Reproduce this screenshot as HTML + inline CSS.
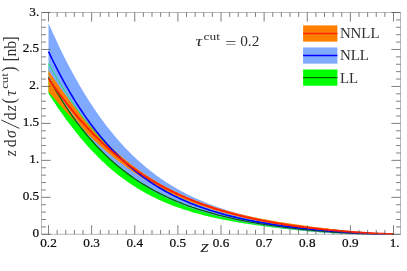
<!DOCTYPE html>
<html><head><meta charset="utf-8"><title>plot</title>
<style>html,body{margin:0;padding:0;background:#fff;}body{width:407px;height:271px;overflow:hidden;position:relative;font-family:"Liberation Serif",serif;}</style>
</head><body>
<svg width="407" height="271" viewBox="0 0 407 271" style="position:absolute;left:0;top:0;will-change:transform">
<rect width="407" height="271" fill="#fff"/>
<path d="M48.50,63.45 L50.23,66.57 L51.95,69.64 L53.68,72.66 L55.40,75.64 L57.12,78.57 L58.85,81.46 L60.58,84.31 L62.30,87.11 L64.03,89.87 L65.75,92.58 L67.47,95.25 L69.20,97.88 L70.92,100.47 L72.65,103.02 L74.38,105.52 L76.10,107.99 L77.83,110.41 L79.55,112.80 L81.28,115.14 L83.00,117.45 L84.73,119.72 L86.45,121.95 L88.18,124.14 L89.90,126.30 L91.63,128.42 L93.35,130.47 L95.07,132.42 L96.80,134.30 L98.53,136.12 L100.25,137.90 L101.97,139.66 L103.70,141.39 L105.43,143.12 L107.15,144.84 L108.88,146.56 L110.60,148.28 L112.32,150.00 L114.05,151.71 L115.77,153.43 L117.50,155.14 L119.22,156.83 L120.95,158.49 L122.67,160.11 L124.40,161.70 L126.12,163.26 L127.85,164.78 L129.57,166.28 L131.30,167.74 L133.03,169.18 L134.75,170.58 L136.48,171.96 L138.20,173.31 L139.93,174.63 L141.65,175.92 L143.38,177.19 L145.10,178.43 L146.83,179.64 L148.55,180.83 L150.28,181.99 L152.00,183.13 L153.72,184.25 L155.45,185.34 L157.18,186.41 L158.90,187.46 L160.62,188.49 L162.35,189.49 L164.07,190.47 L165.80,191.44 L167.53,192.38 L169.25,193.30 L170.98,194.21 L172.70,195.09 L174.43,195.96 L176.15,196.80 L177.88,197.63 L179.60,198.45 L181.32,199.24 L183.05,200.02 L184.78,200.78 L186.50,201.53 L188.22,202.26 L189.95,202.98 L191.68,203.68 L193.40,204.36 L195.12,205.04 L196.85,205.69 L198.58,206.34 L200.30,206.97 L202.03,207.58 L203.75,208.19 L205.48,208.78 L207.20,209.36 L208.93,209.93 L210.65,210.48 L212.38,211.03 L214.10,211.56 L215.83,212.08 L217.55,212.59 L219.28,213.09 L221.00,213.58 L222.73,214.06 L224.45,214.53 L226.18,214.99 L227.90,215.44 L229.62,215.88 L231.35,216.31 L233.07,216.74 L234.80,217.15 L236.53,217.56 L238.25,217.96 L239.97,218.35 L241.70,218.73 L243.43,219.10 L245.15,219.47 L246.88,219.83 L248.60,220.18 L250.33,220.53 L252.05,220.87 L253.78,221.20 L255.50,221.52 L257.22,221.84 L258.95,222.15 L260.67,222.46 L262.40,222.76 L264.12,223.05 L265.85,223.34 L267.58,223.63 L269.30,223.90 L271.02,224.18 L272.75,224.44 L274.48,224.71 L276.20,224.96 L277.93,225.22 L279.65,225.46 L281.38,225.71 L283.10,225.95 L284.83,226.18 L286.55,226.41 L288.28,226.63 L290.00,226.86 L291.73,227.07 L293.45,227.29 L295.18,227.50 L296.90,227.70 L298.62,227.90 L300.35,228.10 L302.08,228.30 L303.80,228.49 L305.53,228.67 L307.25,228.86 L308.98,229.04 L310.70,229.22 L312.43,229.39 L314.15,229.56 L315.88,229.73 L317.60,229.90 L319.33,230.06 L321.05,230.22 L322.78,230.38 L324.50,230.53 L326.23,230.68 L327.95,230.83 L329.68,230.98 L331.40,231.12 L333.13,231.26 L334.85,231.40 L336.58,231.54 L338.30,231.67 L340.03,231.80 L341.75,231.93 L343.48,232.05 L345.20,232.17 L346.93,232.29 L348.65,232.41 L350.38,232.53 L352.10,232.64 L353.82,232.75 L355.55,232.85 L357.27,232.96 L359.00,233.06 L360.72,233.16 L362.45,233.25 L364.18,233.35 L365.90,233.43 L367.62,233.52 L369.35,233.60 L371.07,233.68 L372.80,233.76 L374.52,233.83 L376.25,233.90 L377.98,233.96 L379.70,234.02 L381.43,234.08 L383.15,234.13 L384.88,234.18 L386.60,234.21 L388.32,234.25 L390.05,234.27 L391.78,234.29 L393.50,234.30 L393.50,234.30 L391.78,234.30 L390.05,234.30 L388.32,234.30 L386.60,234.30 L384.88,234.30 L383.15,234.30 L381.43,234.30 L379.70,234.30 L377.98,234.30 L376.25,234.29 L374.52,234.29 L372.80,234.29 L371.07,234.28 L369.35,234.27 L367.62,234.26 L365.90,234.25 L364.18,234.23 L362.45,234.21 L360.72,234.19 L359.00,234.17 L357.27,234.14 L355.55,234.10 L353.82,234.06 L352.10,234.02 L350.38,233.97 L348.65,233.92 L346.93,233.86 L345.20,233.79 L343.48,233.73 L341.75,233.65 L340.03,233.57 L338.30,233.49 L336.58,233.40 L334.85,233.31 L333.13,233.21 L331.40,233.10 L329.68,233.00 L327.95,232.88 L326.23,232.77 L324.50,232.65 L322.78,232.52 L321.05,232.39 L319.33,232.26 L317.60,232.12 L315.88,231.98 L314.15,231.83 L312.43,231.68 L310.70,231.53 L308.98,231.38 L307.25,231.22 L305.53,231.05 L303.80,230.89 L302.08,230.72 L300.35,230.55 L298.62,230.38 L296.90,230.20 L295.18,230.02 L293.45,229.84 L291.73,229.65 L290.00,229.47 L288.28,229.27 L286.55,229.08 L284.83,228.89 L283.10,228.69 L281.38,228.49 L279.65,228.28 L277.93,228.08 L276.20,227.87 L274.48,227.65 L272.75,227.44 L271.02,227.22 L269.30,227.00 L267.58,226.77 L265.85,226.55 L264.12,226.32 L262.40,226.08 L260.67,225.84 L258.95,225.60 L257.22,225.36 L255.50,225.11 L253.78,224.86 L252.05,224.60 L250.33,224.34 L248.60,224.08 L246.88,223.81 L245.15,223.54 L243.43,223.26 L241.70,222.98 L239.97,222.69 L238.25,222.40 L236.53,222.10 L234.80,221.80 L233.07,221.49 L231.35,221.17 L229.62,220.85 L227.90,220.53 L226.18,220.19 L224.45,219.86 L222.73,219.51 L221.00,219.16 L219.28,218.80 L217.55,218.43 L215.83,218.06 L214.10,217.67 L212.38,217.28 L210.65,216.88 L208.93,216.48 L207.20,216.06 L205.48,215.64 L203.75,215.20 L202.03,214.76 L200.30,214.31 L198.58,213.84 L196.85,213.37 L195.12,212.89 L193.40,212.39 L191.68,211.88 L189.95,211.37 L188.22,210.84 L186.50,210.30 L184.78,209.74 L183.05,209.17 L181.32,208.59 L179.60,208.00 L177.88,207.39 L176.15,206.77 L174.43,206.14 L172.70,205.48 L170.98,204.82 L169.25,204.14 L167.53,203.44 L165.80,202.73 L164.07,201.99 L162.35,201.25 L160.62,200.48 L158.90,199.70 L157.18,198.90 L155.45,198.08 L153.72,197.24 L152.00,196.38 L150.28,195.50 L148.55,194.60 L146.83,193.68 L145.10,192.73 L143.38,191.77 L141.65,190.78 L139.93,189.77 L138.20,188.74 L136.48,187.69 L134.75,186.61 L133.03,185.50 L131.30,184.37 L129.57,183.22 L127.85,182.03 L126.12,180.83 L124.40,179.59 L122.67,178.33 L120.95,177.04 L119.22,175.72 L117.50,174.38 L115.77,173.00 L114.05,171.60 L112.32,170.16 L110.60,168.70 L108.88,167.20 L107.15,165.67 L105.43,164.11 L103.70,162.52 L101.97,160.90 L100.25,159.24 L98.53,157.56 L96.80,155.83 L95.07,154.08 L93.35,152.29 L91.63,150.46 L89.90,148.61 L88.18,146.71 L86.45,144.78 L84.73,142.82 L83.00,140.82 L81.28,138.79 L79.55,136.72 L77.83,134.62 L76.10,132.48 L74.38,130.30 L72.65,128.09 L70.92,125.85 L69.20,123.57 L67.47,121.25 L65.75,118.90 L64.03,116.51 L62.30,114.09 L60.58,111.64 L58.85,109.15 L57.12,106.63 L55.40,104.08 L53.68,101.50 L51.95,98.88 L50.23,96.24 L48.50,93.56Z" fill="#00ff00"/>
<path d="M48.50,23.14 L50.23,27.08 L51.95,30.95 L53.68,34.77 L55.40,38.54 L57.12,42.24 L58.85,45.89 L60.58,49.47 L62.30,53.01 L64.03,56.48 L65.75,59.90 L67.47,63.27 L69.20,66.58 L70.92,69.83 L72.65,73.04 L74.38,76.18 L76.10,79.28 L77.83,82.32 L79.55,85.32 L81.28,88.26 L83.00,91.15 L84.73,93.99 L86.45,96.78 L88.18,99.52 L89.90,102.22 L91.63,104.86 L93.35,107.46 L95.07,110.02 L96.80,112.52 L98.53,114.98 L100.25,117.40 L101.97,119.77 L103.70,122.10 L105.43,124.39 L107.15,126.64 L108.88,128.84 L110.60,131.00 L112.32,133.12 L114.05,135.20 L115.77,137.24 L117.50,139.25 L119.22,141.21 L120.95,143.14 L122.67,145.03 L124.40,146.88 L126.12,148.70 L127.85,150.48 L129.57,152.23 L131.30,153.95 L133.03,155.63 L134.75,157.28 L136.48,158.89 L138.20,160.47 L139.93,162.03 L141.65,163.55 L143.38,165.04 L145.10,166.50 L146.83,167.93 L148.55,169.33 L150.28,170.71 L152.00,172.05 L153.72,173.37 L155.45,174.67 L157.18,175.93 L158.90,177.17 L160.62,178.39 L162.35,179.58 L164.07,180.75 L165.80,181.89 L167.53,183.01 L169.25,184.11 L170.98,185.18 L172.70,186.23 L174.43,187.26 L176.15,188.27 L177.88,189.26 L179.60,190.22 L181.32,191.17 L183.05,192.10 L184.78,193.00 L186.50,193.89 L188.22,194.76 L189.95,195.62 L191.68,196.45 L193.40,197.27 L195.12,198.07 L196.85,198.85 L198.58,199.62 L200.30,200.37 L202.03,201.10 L203.75,201.82 L205.48,202.53 L207.20,203.22 L208.93,203.89 L210.65,204.56 L212.38,205.20 L214.10,205.84 L215.83,206.46 L217.55,207.07 L219.28,207.66 L221.00,208.24 L222.73,208.81 L224.45,209.37 L226.18,209.92 L227.90,210.46 L229.62,210.98 L231.35,211.49 L233.07,212.00 L234.80,212.49 L236.53,212.97 L238.25,213.44 L239.97,213.91 L241.70,214.36 L243.43,214.80 L245.15,215.24 L246.88,215.67 L248.60,216.08 L250.33,216.49 L252.05,216.89 L253.78,217.28 L255.50,217.67 L257.22,218.05 L258.95,218.42 L260.67,218.78 L262.40,219.13 L264.12,219.48 L265.85,219.82 L267.58,220.15 L269.30,220.48 L271.02,220.80 L272.75,221.12 L274.48,221.43 L276.20,221.73 L277.93,222.03 L279.65,222.32 L281.38,222.61 L283.10,222.89 L284.83,223.16 L286.55,223.43 L288.28,223.70 L290.00,223.96 L291.73,224.22 L293.45,224.47 L295.18,224.71 L296.90,224.96 L298.62,225.20 L300.35,225.43 L302.08,225.66 L303.80,225.89 L305.53,226.11 L307.25,226.33 L308.98,226.54 L310.70,226.76 L312.43,226.96 L314.15,227.17 L315.88,227.37 L317.60,227.57 L319.33,227.77 L321.05,227.96 L322.78,228.15 L324.50,228.34 L326.23,228.52 L327.95,228.71 L329.68,228.89 L331.40,229.06 L333.13,229.24 L334.85,229.41 L336.58,229.58 L338.30,229.75 L340.03,229.92 L341.75,230.08 L343.48,230.25 L345.20,230.41 L346.93,230.57 L348.65,230.72 L350.38,230.88 L352.10,231.03 L353.82,231.19 L355.55,231.34 L357.27,231.49 L359.00,231.64 L360.72,231.79 L362.45,231.93 L364.18,232.08 L365.90,232.22 L367.62,232.36 L369.35,232.50 L371.07,232.65 L372.80,232.78 L374.52,232.92 L376.25,233.06 L377.98,233.19 L379.70,233.33 L381.43,233.46 L383.15,233.59 L384.88,233.72 L386.60,233.85 L388.32,233.97 L390.05,234.09 L391.78,234.20 L393.50,234.30 L393.50,234.30 L391.78,234.30 L390.05,234.30 L388.32,234.30 L386.60,234.30 L384.88,234.30 L383.15,234.30 L381.43,234.29 L379.70,234.29 L377.98,234.29 L376.25,234.28 L374.52,234.27 L372.80,234.26 L371.07,234.24 L369.35,234.22 L367.62,234.20 L365.90,234.17 L364.18,234.15 L362.45,234.11 L360.72,234.07 L359.00,234.03 L357.27,233.99 L355.55,233.94 L353.82,233.88 L352.10,233.82 L350.38,233.75 L348.65,233.68 L346.93,233.61 L345.20,233.53 L343.48,233.45 L341.75,233.36 L340.03,233.26 L338.30,233.16 L336.58,233.06 L334.85,232.95 L333.13,232.84 L331.40,232.72 L329.68,232.60 L327.95,232.47 L326.23,232.34 L324.50,232.21 L322.78,232.07 L321.05,231.93 L319.33,231.78 L317.60,231.63 L315.88,231.47 L314.15,231.31 L312.43,231.15 L310.70,230.98 L308.98,230.81 L307.25,230.64 L305.53,230.46 L303.80,230.28 L302.08,230.09 L300.35,229.90 L298.62,229.71 L296.90,229.51 L295.18,229.31 L293.45,229.11 L291.73,228.90 L290.00,228.69 L288.28,228.47 L286.55,228.25 L284.83,228.03 L283.10,227.80 L281.38,227.57 L279.65,227.33 L277.93,227.09 L276.20,226.85 L274.48,226.61 L272.75,226.35 L271.02,226.10 L269.30,225.84 L267.58,225.58 L265.85,225.31 L264.12,225.03 L262.40,224.76 L260.67,224.48 L258.95,224.19 L257.22,223.90 L255.50,223.60 L253.78,223.30 L252.05,222.99 L250.33,222.68 L248.60,222.36 L246.88,222.04 L245.15,221.71 L243.43,221.38 L241.70,221.04 L239.97,220.69 L238.25,220.34 L236.53,219.98 L234.80,219.61 L233.07,219.24 L231.35,218.86 L229.62,218.47 L227.90,218.08 L226.18,217.68 L224.45,217.27 L222.73,216.85 L221.00,216.43 L219.28,215.99 L217.55,215.55 L215.83,215.10 L214.10,214.64 L212.38,214.17 L210.65,213.70 L208.93,213.21 L207.20,212.71 L205.48,212.21 L203.75,211.69 L202.03,211.16 L200.30,210.63 L198.58,210.08 L196.85,209.52 L195.12,208.94 L193.40,208.36 L191.68,207.77 L189.95,207.16 L188.22,206.54 L186.50,205.90 L184.78,205.26 L183.05,204.60 L181.32,203.92 L179.60,203.23 L177.88,202.53 L176.15,201.81 L174.43,201.08 L172.70,200.33 L170.98,199.56 L169.25,198.78 L167.53,197.98 L165.80,197.17 L164.07,196.34 L162.35,195.49 L160.62,194.62 L158.90,193.73 L157.18,192.82 L155.45,191.90 L153.72,190.95 L152.00,189.99 L150.28,189.00 L148.55,187.99 L146.83,186.96 L145.10,185.91 L143.38,184.84 L141.65,183.74 L139.93,182.62 L138.20,181.47 L136.48,180.30 L134.75,179.11 L133.03,177.89 L131.30,176.65 L129.57,175.37 L127.85,174.07 L126.12,172.75 L124.40,171.39 L122.67,170.01 L120.95,168.60 L119.22,167.16 L117.50,165.69 L115.77,164.19 L114.05,162.65 L112.32,161.09 L110.60,159.49 L108.88,157.86 L107.15,156.20 L105.43,154.50 L103.70,152.77 L101.97,151.00 L100.25,149.20 L98.53,147.36 L96.80,145.49 L95.07,143.58 L93.35,141.62 L91.63,139.64 L89.90,137.61 L88.18,135.54 L86.45,133.43 L84.73,131.29 L83.00,129.10 L81.28,126.87 L79.55,124.59 L77.83,122.28 L76.10,119.92 L74.38,117.52 L72.65,115.07 L70.92,112.58 L69.20,110.04 L67.47,107.46 L65.75,104.83 L64.03,102.16 L62.30,99.44 L60.58,96.67 L58.85,93.85 L57.12,90.99 L55.40,88.08 L53.68,85.12 L51.95,82.11 L50.23,79.05 L48.50,75.94Z" fill="#80aaff"/>
<path d="M48.50,70.53 L50.23,73.12 L51.95,75.69 L53.68,78.23 L55.40,80.75 L57.12,83.24 L58.85,85.71 L60.58,88.14 L62.30,90.55 L64.03,92.94 L65.75,95.29 L67.47,97.62 L69.20,99.92 L70.92,102.19 L72.65,104.43 L74.38,106.65 L76.10,108.84 L77.83,111.00 L79.55,113.13 L81.28,115.23 L83.00,117.30 L84.73,119.35 L86.45,121.37 L88.18,123.36 L89.90,125.32 L91.63,127.25 L93.35,129.16 L95.07,131.04 L96.80,132.89 L98.53,134.71 L100.25,136.51 L101.97,138.28 L103.70,140.02 L105.43,141.74 L107.15,143.43 L108.88,145.09 L110.60,146.72 L112.32,148.33 L114.05,149.92 L115.77,151.48 L117.50,153.01 L119.22,154.52 L120.95,156.00 L122.67,157.46 L124.40,158.90 L126.12,160.31 L127.85,161.70 L129.57,163.06 L131.30,164.40 L133.03,165.72 L134.75,167.02 L136.48,168.29 L138.20,169.54 L139.93,170.77 L141.65,171.97 L143.38,173.16 L145.10,174.33 L146.83,175.47 L148.55,176.59 L150.28,177.70 L152.00,178.78 L153.72,179.85 L155.45,180.89 L157.18,181.92 L158.90,182.93 L160.62,183.91 L162.35,184.89 L164.07,185.84 L165.80,186.77 L167.53,187.69 L169.25,188.59 L170.98,189.48 L172.70,190.35 L174.43,191.20 L176.15,192.04 L177.88,192.86 L179.60,193.66 L181.32,194.45 L183.05,195.23 L184.78,195.99 L186.50,196.74 L188.22,197.47 L189.95,198.19 L191.68,198.89 L193.40,199.58 L195.12,200.26 L196.85,200.93 L198.58,201.58 L200.30,202.23 L202.03,202.85 L203.75,203.47 L205.48,204.08 L207.20,204.67 L208.93,205.26 L210.65,205.83 L212.38,206.39 L214.10,206.94 L215.83,207.48 L217.55,208.01 L219.28,208.54 L221.00,209.05 L222.73,209.55 L224.45,210.04 L226.18,210.52 L227.90,211.00 L229.62,211.47 L231.35,211.92 L233.07,212.37 L234.80,212.81 L236.53,213.25 L238.25,213.67 L239.97,214.09 L241.70,214.50 L243.43,214.90 L245.15,215.30 L246.88,215.69 L248.60,216.07 L250.33,216.45 L252.05,216.81 L253.78,217.18 L255.50,217.53 L257.22,217.88 L258.95,218.23 L260.67,218.57 L262.40,218.90 L264.12,219.23 L265.85,219.55 L267.58,219.87 L269.30,220.18 L271.02,220.49 L272.75,220.79 L274.48,221.09 L276.20,221.38 L277.93,221.67 L279.65,221.95 L281.38,222.23 L283.10,222.51 L284.83,222.78 L286.55,223.05 L288.28,223.31 L290.00,223.58 L291.73,223.83 L293.45,224.09 L295.18,224.34 L296.90,224.58 L298.62,224.83 L300.35,225.07 L302.08,225.30 L303.80,225.54 L305.53,225.77 L307.25,226.00 L308.98,226.22 L310.70,226.45 L312.43,226.67 L314.15,226.89 L315.88,227.10 L317.60,227.31 L319.33,227.53 L321.05,227.73 L322.78,227.94 L324.50,228.14 L326.23,228.34 L327.95,228.54 L329.68,228.74 L331.40,228.94 L333.13,229.13 L334.85,229.32 L336.58,229.51 L338.30,229.69 L340.03,229.88 L341.75,230.06 L343.48,230.24 L345.20,230.42 L346.93,230.59 L348.65,230.76 L350.38,230.93 L352.10,231.10 L353.82,231.26 L355.55,231.42 L357.27,231.58 L359.00,231.73 L360.72,231.89 L362.45,232.03 L364.18,232.18 L365.90,232.31 L367.62,232.45 L369.35,232.58 L371.07,232.70 L372.80,232.82 L374.52,232.93 L376.25,233.04 L377.98,233.14 L379.70,233.23 L381.43,233.31 L383.15,233.38 L384.88,233.44 L386.60,233.49 L388.32,233.53 L390.05,233.56 L391.78,233.57 L393.50,233.56 L393.50,234.30 L391.78,234.30 L390.05,234.30 L388.32,234.29 L386.60,234.29 L384.88,234.28 L383.15,234.26 L381.43,234.24 L379.70,234.22 L377.98,234.19 L376.25,234.15 L374.52,234.11 L372.80,234.06 L371.07,234.01 L369.35,233.95 L367.62,233.88 L365.90,233.81 L364.18,233.74 L362.45,233.65 L360.72,233.56 L359.00,233.47 L357.27,233.37 L355.55,233.27 L353.82,233.15 L352.10,233.04 L350.38,232.92 L348.65,232.79 L346.93,232.66 L345.20,232.53 L343.48,232.39 L341.75,232.25 L340.03,232.10 L338.30,231.95 L336.58,231.79 L334.85,231.63 L333.13,231.46 L331.40,231.30 L329.68,231.12 L327.95,230.95 L326.23,230.77 L324.50,230.59 L322.78,230.40 L321.05,230.21 L319.33,230.01 L317.60,229.82 L315.88,229.62 L314.15,229.41 L312.43,229.21 L310.70,228.99 L308.98,228.78 L307.25,228.56 L305.53,228.34 L303.80,228.12 L302.08,227.89 L300.35,227.65 L298.62,227.42 L296.90,227.18 L295.18,226.94 L293.45,226.69 L291.73,226.44 L290.00,226.19 L288.28,225.93 L286.55,225.67 L284.83,225.40 L283.10,225.13 L281.38,224.86 L279.65,224.58 L277.93,224.30 L276.20,224.01 L274.48,223.72 L272.75,223.43 L271.02,223.13 L269.30,222.82 L267.58,222.51 L265.85,222.20 L264.12,221.88 L262.40,221.56 L260.67,221.23 L258.95,220.89 L257.22,220.55 L255.50,220.21 L253.78,219.86 L252.05,219.50 L250.33,219.14 L248.60,218.77 L246.88,218.40 L245.15,218.01 L243.43,217.63 L241.70,217.23 L239.97,216.83 L238.25,216.42 L236.53,216.01 L234.80,215.59 L233.07,215.16 L231.35,214.72 L229.62,214.28 L227.90,213.83 L226.18,213.37 L224.45,212.90 L222.73,212.43 L221.00,211.94 L219.28,211.45 L217.55,210.95 L215.83,210.44 L214.10,209.92 L212.38,209.39 L210.65,208.85 L208.93,208.31 L207.20,207.75 L205.48,207.18 L203.75,206.60 L202.03,206.02 L200.30,205.42 L198.58,204.81 L196.85,204.19 L195.12,203.56 L193.40,202.92 L191.68,202.26 L189.95,201.60 L188.22,200.92 L186.50,200.23 L184.78,199.53 L183.05,198.81 L181.32,198.09 L179.60,197.35 L177.88,196.59 L176.15,195.83 L174.43,195.05 L172.70,194.25 L170.98,193.45 L169.25,192.62 L167.53,191.79 L165.80,190.94 L164.07,190.07 L162.35,189.19 L160.62,188.29 L158.90,187.38 L157.18,186.46 L155.45,185.51 L153.72,184.55 L152.00,183.58 L150.28,182.59 L148.55,181.58 L146.83,180.56 L145.10,179.51 L143.38,178.46 L141.65,177.38 L139.93,176.29 L138.20,175.17 L136.48,174.05 L134.75,172.90 L133.03,171.73 L131.30,170.55 L129.57,169.35 L127.85,168.13 L126.12,166.89 L124.40,165.63 L122.67,164.35 L120.95,163.06 L119.22,161.74 L117.50,160.41 L115.77,159.05 L114.05,157.68 L112.32,156.29 L110.60,154.87 L108.88,153.44 L107.15,151.99 L105.43,150.52 L103.70,149.03 L101.97,147.52 L100.25,145.98 L98.53,144.43 L96.80,142.86 L95.07,141.27 L93.35,139.67 L91.63,138.04 L89.90,136.39 L88.18,134.72 L86.45,133.04 L84.73,131.33 L83.00,129.61 L81.28,127.87 L79.55,126.11 L77.83,124.33 L76.10,122.53 L74.38,120.72 L72.65,118.88 L70.92,117.03 L69.20,115.17 L67.47,113.29 L65.75,111.39 L64.03,109.48 L62.30,107.55 L60.58,105.60 L58.85,103.64 L57.12,101.67 L55.40,99.69 L53.68,97.69 L51.95,95.68 L50.23,93.66 L48.50,91.62Z" fill="#ff8000"/>
<path d="M48.50,63.45 L50.23,66.57 L51.95,69.64 L53.68,72.66 L55.40,75.64 L57.12,78.57 L58.85,81.46 L60.58,84.31 L62.30,87.11 L64.03,89.87 L65.75,92.58 L67.47,95.25 L69.20,97.88 L70.92,100.47 L72.65,103.02 L74.38,105.52 L76.10,107.99 L77.83,110.41 L79.55,112.80 L81.28,115.14 L83.00,117.45 L84.73,119.72 L86.45,121.95 L88.18,124.14 L89.90,126.30 L91.63,128.42 L93.35,130.47 L95.07,132.42 L96.80,134.30 L98.53,136.12 L100.25,137.90 L101.97,139.66 L103.70,141.39 L105.43,143.12 L107.15,144.84 L108.88,146.56 L110.60,148.28 L112.32,150.00 L114.05,151.71 L115.77,153.43 L117.50,155.14 L119.22,156.83 L120.95,158.49 L122.67,160.11 L124.40,161.70 L126.12,163.26 L127.85,164.78 L129.57,166.28 L131.30,167.74 L133.03,169.18 L134.75,170.58 L136.48,171.96 L138.20,173.31 L139.93,174.63 L141.65,175.92 L143.38,177.19 L145.10,178.43 L146.83,179.64 L148.55,180.83 L150.28,181.99 L152.00,183.13 L153.72,184.25 L155.45,185.34 L157.18,186.41 L158.90,187.46 L160.62,188.49 L162.35,189.49 L164.07,190.47 L165.80,191.44 L167.53,192.38 L169.25,193.30 L170.98,194.21 L172.70,195.09 L174.43,195.96 L176.15,196.80 L177.88,197.63 L179.60,198.45 L181.32,199.24 L183.05,200.02 L184.78,200.78 L186.50,201.53 L188.22,202.26 L189.95,202.98 L191.68,203.68 L193.40,204.36 L195.12,205.04 L196.85,205.69 L198.58,206.34 L200.30,206.97 L202.03,207.58 L203.75,208.19 L205.48,208.78 L207.20,209.36 L208.93,209.93 L210.65,210.48 L212.38,211.03 L214.10,211.56 L215.83,212.08 L217.55,212.59 L219.28,213.09 L221.00,213.58 L222.73,214.06 L224.45,214.53 L226.18,214.99 L227.90,215.44 L229.62,215.88 L231.35,216.31 L233.07,216.74 L234.80,217.15 L236.53,217.56 L238.25,217.96 L239.97,218.35 L241.70,218.73 L243.43,219.10 L245.15,219.47 L246.88,219.83 L248.60,220.18 L250.33,220.53 L252.05,220.87 L253.78,221.20 L255.50,221.52 L257.22,221.84 L258.95,222.15 L260.67,222.46 L262.40,222.76 L264.12,223.05 L265.85,223.34 L267.58,223.63 L269.30,223.90 L271.02,224.18 L272.75,224.44 L274.48,224.71 L276.20,224.96 L277.93,225.22 L279.65,225.46 L281.38,225.71 L283.10,225.95 L284.83,226.18 L286.55,226.41 L288.28,226.63 L290.00,226.86 L291.73,227.07 L293.45,227.29 L295.18,227.50 L296.90,227.70 L298.62,227.90 L300.35,228.10 L302.08,228.30 L303.80,228.49 L305.53,228.67 L307.25,228.86 L308.98,229.04 L310.70,229.22 L312.43,229.39 L314.15,229.56 L315.88,229.73 L317.60,229.90 L319.33,230.06 L321.05,230.22 L322.78,230.38 L324.50,230.53 L326.23,230.68 L327.95,230.83 L329.68,230.98 L331.40,231.12 L333.13,231.26 L334.85,231.40 L336.58,231.54 L338.30,231.67 L340.03,231.80 L341.75,231.93 L343.48,232.05 L345.20,232.17 L346.93,232.29 L348.65,232.41 L350.38,232.53 L352.10,232.64 L353.82,232.75 L355.55,232.85 L357.27,232.96 L359.00,233.06 L360.72,233.16 L362.45,233.25 L364.18,233.35 L365.90,233.43 L367.62,233.52 L369.35,233.60 L371.07,233.68 L372.80,233.76 L374.52,233.83 L376.25,233.90 L377.98,233.96 L379.70,234.02 L381.43,234.08 L383.15,234.13 L384.88,234.18 L386.60,234.21 L388.32,234.25 L390.05,234.27 L391.78,234.29 L393.50,234.30" fill="none" stroke="#00ee44" stroke-width="0.9"/>
<path d="M48.50,75.94 L50.23,79.05 L51.95,82.11 L53.68,85.12 L55.40,88.08 L57.12,90.99 L58.85,93.85 L60.58,96.67 L62.30,99.44 L64.03,102.16 L65.75,104.83 L67.47,107.46 L69.20,110.04 L70.92,112.58 L72.65,115.07 L74.38,117.52 L76.10,119.92 L77.83,122.28 L79.55,124.59 L81.28,126.87 L83.00,129.10 L84.73,131.29 L86.45,133.43 L88.18,135.54 L89.90,137.61 L91.63,139.64 L93.35,141.62 L95.07,143.58 L96.80,145.49 L98.53,147.36 L100.25,149.20 L101.97,151.00 L103.70,152.77 L105.43,154.50 L107.15,156.20 L108.88,157.86 L110.60,159.49 L112.32,161.09 L114.05,162.65 L115.77,164.19 L117.50,165.69 L119.22,167.16 L120.95,168.60 L122.67,170.01 L124.40,171.39 L126.12,172.75 L127.85,174.07 L129.57,175.37 L131.30,176.65 L133.03,177.89 L134.75,179.11 L136.48,180.30 L138.20,181.47 L139.93,182.62 L141.65,183.74 L143.38,184.84 L145.10,185.91 L146.83,186.96 L148.55,187.99 L150.28,189.00 L152.00,189.99 L153.72,190.95 L155.45,191.90 L157.18,192.82 L158.90,193.73 L160.62,194.62 L162.35,195.49 L164.07,196.34 L165.80,197.17 L167.53,197.98 L169.25,198.78 L170.98,199.56 L172.70,200.33 L174.43,201.08 L176.15,201.81 L177.88,202.53 L179.60,203.23 L181.32,203.92 L183.05,204.60 L184.78,205.26 L186.50,205.90 L188.22,206.54 L189.95,207.16 L191.68,207.77 L193.40,208.36 L195.12,208.94 L196.85,209.52 L198.58,210.08 L200.30,210.63 L202.03,211.16 L203.75,211.69 L205.48,212.21 L207.20,212.71 L208.93,213.21 L210.65,213.70 L212.38,214.17 L214.10,214.64 L215.83,215.10 L217.55,215.55 L219.28,215.99 L221.00,216.43 L222.73,216.85 L224.45,217.27 L226.18,217.68 L227.90,218.08 L229.62,218.47 L231.35,218.86 L233.07,219.24 L234.80,219.61 L236.53,219.98 L238.25,220.34 L239.97,220.69 L241.70,221.04 L243.43,221.38 L245.15,221.71 L246.88,222.04 L248.60,222.36 L250.33,222.68 L252.05,222.99 L253.78,223.30 L255.50,223.60 L257.22,223.90 L258.95,224.19 L260.67,224.48 L262.40,224.76 L264.12,225.03 L265.85,225.31 L267.58,225.58 L269.30,225.84 L271.02,226.10 L272.75,226.35 L274.48,226.61 L276.20,226.85 L277.93,227.09 L279.65,227.33 L281.38,227.57 L283.10,227.80 L284.83,228.03 L286.55,228.25 L288.28,228.47 L290.00,228.69 L291.73,228.90 L293.45,229.11 L295.18,229.31 L296.90,229.51 L298.62,229.71 L300.35,229.90 L302.08,230.09 L303.80,230.28 L305.53,230.46 L307.25,230.64 L308.98,230.81 L310.70,230.98 L312.43,231.15 L314.15,231.31 L315.88,231.47 L317.60,231.63 L319.33,231.78 L321.05,231.93 L322.78,232.07 L324.50,232.21 L326.23,232.34 L327.95,232.47 L329.68,232.60 L331.40,232.72 L333.13,232.84 L334.85,232.95 L336.58,233.06 L338.30,233.16 L340.03,233.26 L341.75,233.36 L343.48,233.45 L345.20,233.53 L346.93,233.61 L348.65,233.68 L350.38,233.75 L352.10,233.82 L353.82,233.88 L355.55,233.94 L357.27,233.99 L359.00,234.03 L360.72,234.07 L362.45,234.11 L364.18,234.15 L365.90,234.17 L367.62,234.20 L369.35,234.22 L371.07,234.24 L372.80,234.26 L374.52,234.27 L376.25,234.28 L377.98,234.29 L379.70,234.29 L381.43,234.29 L383.15,234.30 L384.88,234.30 L386.60,234.30 L388.32,234.30 L390.05,234.30 L391.78,234.30 L393.50,234.30" fill="none" stroke="#80aaff" stroke-width="0.9"/>
<path d="M48.50,77.27 L50.23,80.45 L51.95,83.56 L53.68,86.62 L55.40,89.61 L57.12,92.55 L58.85,95.43 L60.58,98.25 L62.30,101.02 L64.03,103.73 L65.75,106.39 L67.47,109.00 L69.20,111.56 L70.92,114.07 L72.65,116.52 L74.38,118.93 L76.10,121.29 L77.83,123.61 L79.55,125.87 L81.28,128.10 L83.00,130.27 L84.73,132.41 L86.45,134.50 L88.18,136.55 L89.90,138.56 L91.63,140.53 L93.35,142.46 L95.07,144.36 L96.80,146.21 L98.53,148.03 L100.25,149.81 L101.97,151.55 L103.70,153.26 L105.43,154.94 L107.15,156.58 L108.88,158.19 L110.60,159.76 L112.32,161.31 L114.05,162.82 L115.77,164.30 L117.50,165.76 L119.22,167.18 L120.95,168.58 L122.67,169.94 L124.40,171.28 L126.12,172.59 L127.85,173.88 L129.57,175.14 L131.30,176.37 L133.03,177.58 L134.75,178.77 L136.48,179.93 L138.20,181.07 L139.93,182.18 L141.65,183.28 L143.38,184.35 L145.10,185.39 L146.83,186.42 L148.55,187.43 L150.28,188.42 L152.00,189.38 L153.72,190.33 L155.45,191.26 L157.18,192.17 L158.90,193.06 L160.62,193.93 L162.35,194.79 L164.07,195.63 L165.80,196.45 L167.53,197.26 L169.25,198.05 L170.98,198.82 L172.70,199.58 L174.43,200.33 L176.15,201.05 L177.88,201.77 L179.60,202.47 L181.32,203.16 L183.05,203.83 L184.78,204.49 L186.50,205.14 L188.22,205.77 L189.95,206.39 L191.68,207.00 L193.40,207.60 L195.12,208.18 L196.85,208.76 L198.58,209.32 L200.30,209.87 L202.03,210.42 L203.75,210.95 L205.48,211.47 L207.20,211.98 L208.93,212.48 L210.65,212.97 L212.38,213.45 L214.10,213.93 L215.83,214.39 L217.55,214.84 L219.28,215.29 L221.00,215.73 L222.73,216.16 L224.45,216.58 L226.18,216.99 L227.90,217.40 L229.62,217.80 L231.35,218.19 L233.07,218.57 L234.80,218.95 L236.53,219.32 L238.25,219.68 L239.97,220.03 L241.70,220.38 L243.43,220.73 L245.15,221.06 L246.88,221.39 L248.60,221.72 L250.33,222.04 L252.05,222.35 L253.78,222.66 L255.50,222.96 L257.22,223.25 L258.95,223.54 L260.67,223.83 L262.40,224.11 L264.12,224.39 L265.85,224.66 L267.58,224.92 L269.30,225.18 L271.02,225.44 L272.75,225.69 L274.48,225.94 L276.20,226.18 L277.93,226.42 L279.65,226.65 L281.38,226.88 L283.10,227.11 L284.83,227.33 L286.55,227.55 L288.28,227.76 L290.00,227.97 L291.73,228.18 L293.45,228.38 L295.18,228.58 L296.90,228.78 L298.62,228.97 L300.35,229.16 L302.08,229.34 L303.80,229.52 L305.53,229.70 L307.25,229.88 L308.98,230.05 L310.70,230.22 L312.43,230.38 L314.15,230.54 L315.88,230.70 L317.60,230.85 L319.33,231.01 L321.05,231.15 L322.78,231.30 L324.50,231.44 L326.23,231.58 L327.95,231.72 L329.68,231.85 L331.40,231.98 L333.13,232.10 L334.85,232.23 L336.58,232.35 L338.30,232.46 L340.03,232.58 L341.75,232.69 L343.48,232.79 L345.20,232.90 L346.93,233.00 L348.65,233.09 L350.38,233.19 L352.10,233.27 L353.82,233.36 L355.55,233.44 L357.27,233.52 L359.00,233.60 L360.72,233.67 L362.45,233.74 L364.18,233.80 L365.90,233.86 L367.62,233.92 L369.35,233.97 L371.07,234.02 L372.80,234.07 L374.52,234.11 L376.25,234.14 L377.98,234.18 L379.70,234.21 L381.43,234.23 L383.15,234.25 L384.88,234.27 L386.60,234.28 L388.32,234.29 L390.05,234.30 L391.78,234.30 L393.50,234.30" fill="none" stroke="#006400" stroke-width="1.3"/>
<path d="M48.50,51.51 L50.23,55.15 L51.95,58.73 L53.68,62.24 L55.40,65.70 L57.12,69.09 L58.85,72.42 L60.58,75.69 L62.30,78.90 L64.03,82.06 L65.75,85.15 L67.47,88.19 L69.20,91.18 L70.92,94.10 L72.65,96.98 L74.38,99.80 L76.10,102.57 L77.83,105.28 L79.55,107.95 L81.28,110.56 L83.00,113.13 L84.73,115.64 L86.45,118.11 L88.18,120.53 L89.90,122.91 L91.63,125.23 L93.35,127.52 L95.07,129.76 L96.80,131.95 L98.53,134.10 L100.25,136.21 L101.97,138.28 L103.70,140.31 L105.43,142.30 L107.15,144.24 L108.88,146.15 L110.60,148.02 L112.32,149.86 L114.05,151.65 L115.77,153.42 L117.50,155.14 L119.22,156.83 L120.95,158.49 L122.67,160.11 L124.40,161.70 L126.12,163.26 L127.85,164.78 L129.57,166.28 L131.30,167.74 L133.03,169.18 L134.75,170.58 L136.48,171.96 L138.20,173.31 L139.93,174.63 L141.65,175.92 L143.38,177.19 L145.10,178.43 L146.83,179.64 L148.55,180.83 L150.28,181.99 L152.00,183.13 L153.72,184.25 L155.45,185.34 L157.18,186.41 L158.90,187.46 L160.62,188.49 L162.35,189.49 L164.07,190.47 L165.80,191.44 L167.53,192.38 L169.25,193.30 L170.98,194.21 L172.70,195.09 L174.43,195.96 L176.15,196.80 L177.88,197.63 L179.60,198.45 L181.32,199.24 L183.05,200.02 L184.78,200.78 L186.50,201.53 L188.22,202.26 L189.95,202.98 L191.68,203.68 L193.40,204.36 L195.12,205.04 L196.85,205.69 L198.58,206.34 L200.30,206.97 L202.03,207.58 L203.75,208.19 L205.48,208.78 L207.20,209.36 L208.93,209.93 L210.65,210.48 L212.38,211.03 L214.10,211.56 L215.83,212.08 L217.55,212.59 L219.28,213.09 L221.00,213.58 L222.73,214.06 L224.45,214.53 L226.18,214.99 L227.90,215.44 L229.62,215.88 L231.35,216.31 L233.07,216.74 L234.80,217.15 L236.53,217.56 L238.25,217.96 L239.97,218.35 L241.70,218.73 L243.43,219.10 L245.15,219.47 L246.88,219.83 L248.60,220.18 L250.33,220.53 L252.05,220.87 L253.78,221.20 L255.50,221.52 L257.22,221.84 L258.95,222.15 L260.67,222.46 L262.40,222.76 L264.12,223.05 L265.85,223.34 L267.58,223.63 L269.30,223.90 L271.02,224.18 L272.75,224.44 L274.48,224.71 L276.20,224.96 L277.93,225.22 L279.65,225.46 L281.38,225.71 L283.10,225.95 L284.83,226.18 L286.55,226.41 L288.28,226.63 L290.00,226.86 L291.73,227.07 L293.45,227.29 L295.18,227.50 L296.90,227.70 L298.62,227.90 L300.35,228.10 L302.08,228.30 L303.80,228.49 L305.53,228.67 L307.25,228.86 L308.98,229.04 L310.70,229.22 L312.43,229.39 L314.15,229.56 L315.88,229.73 L317.60,229.90 L319.33,230.06 L321.05,230.22 L322.78,230.38 L324.50,230.53 L326.23,230.68 L327.95,230.83 L329.68,230.98 L331.40,231.12 L333.13,231.26 L334.85,231.40 L336.58,231.54 L338.30,231.67 L340.03,231.80 L341.75,231.93 L343.48,232.05 L345.20,232.17 L346.93,232.29 L348.65,232.41 L350.38,232.53 L352.10,232.64 L353.82,232.75 L355.55,232.85 L357.27,232.96 L359.00,233.06 L360.72,233.16 L362.45,233.25 L364.18,233.35 L365.90,233.43 L367.62,233.52 L369.35,233.60 L371.07,233.68 L372.80,233.76 L374.52,233.83 L376.25,233.90 L377.98,233.96 L379.70,234.02 L381.43,234.08 L383.15,234.13 L384.88,234.18 L386.60,234.21 L388.32,234.25 L390.05,234.27 L391.78,234.29 L393.50,234.30" fill="none" stroke="#0000ff" stroke-width="1.6"/>
<path d="M48.50,78.46 L50.23,80.99 L51.95,83.49 L53.68,85.95 L55.40,88.38 L57.12,90.78 L58.85,93.15 L60.58,95.48 L62.30,97.78 L64.03,100.04 L65.75,102.28 L67.47,104.49 L69.20,106.66 L70.92,108.80 L72.65,110.92 L74.38,113.00 L76.10,115.05 L77.83,117.07 L79.55,119.07 L81.28,121.03 L83.00,122.97 L84.73,124.88 L86.45,126.76 L88.18,128.62 L89.90,130.44 L91.63,132.24 L93.35,134.01 L95.07,135.76 L96.80,137.48 L98.53,139.17 L100.25,140.84 L101.97,142.49 L103.70,144.10 L105.43,145.70 L107.15,147.27 L108.88,148.81 L110.60,150.34 L112.32,151.84 L114.05,153.31 L115.77,154.76 L117.50,156.20 L119.22,157.60 L120.95,158.99 L122.67,160.35 L124.40,161.70 L126.12,163.02 L127.85,164.32 L129.57,165.60 L131.30,166.86 L133.03,168.10 L134.75,169.32 L136.48,170.52 L138.20,171.70 L139.93,172.87 L141.65,174.01 L143.38,175.14 L145.10,176.25 L146.83,177.33 L148.55,178.41 L150.28,179.46 L152.00,180.50 L153.72,181.52 L155.45,182.52 L157.18,183.51 L158.90,184.48 L160.62,185.44 L162.35,186.37 L164.07,187.30 L165.80,188.21 L167.53,189.10 L169.25,189.98 L170.98,190.84 L172.70,191.69 L174.43,192.53 L176.15,193.35 L177.88,194.15 L179.60,194.95 L181.32,195.73 L183.05,196.50 L184.78,197.25 L186.50,197.99 L188.22,198.72 L189.95,199.44 L191.68,200.14 L193.40,200.83 L195.12,201.51 L196.85,202.18 L198.58,202.84 L200.30,203.49 L202.03,204.12 L203.75,204.75 L205.48,205.36 L207.20,205.96 L208.93,206.55 L210.65,207.14 L212.38,207.71 L214.10,208.27 L215.83,208.82 L217.55,209.37 L219.28,209.90 L221.00,210.42 L222.73,210.94 L224.45,211.45 L226.18,211.94 L227.90,212.43 L229.62,212.91 L231.35,213.38 L233.07,213.85 L234.80,214.30 L236.53,214.75 L238.25,215.19 L239.97,215.62 L241.70,216.04 L243.43,216.46 L245.15,216.87 L246.88,217.27 L248.60,217.67 L250.33,218.06 L252.05,218.44 L253.78,218.81 L255.50,219.18 L257.22,219.54 L258.95,219.89 L260.67,220.24 L262.40,220.59 L264.12,220.92 L265.85,221.25 L267.58,221.58 L269.30,221.89 L271.02,222.21 L272.75,222.51 L274.48,222.82 L276.20,223.11 L277.93,223.40 L279.65,223.69 L281.38,223.97 L283.10,224.24 L284.83,224.51 L286.55,224.78 L288.28,225.04 L290.00,225.30 L291.73,225.55 L293.45,225.80 L295.18,226.04 L296.90,226.28 L298.62,226.51 L300.35,226.74 L302.08,226.96 L303.80,227.18 L305.53,227.40 L307.25,227.61 L308.98,227.82 L310.70,228.03 L312.43,228.23 L314.15,228.43 L315.88,228.62 L317.60,228.81 L319.33,229.00 L321.05,229.18 L322.78,229.36 L324.50,229.54 L326.23,229.71 L327.95,229.88 L329.68,230.04 L331.40,230.21 L333.13,230.37 L334.85,230.52 L336.58,230.68 L338.30,230.83 L340.03,230.97 L341.75,231.12 L343.48,231.26 L345.20,231.40 L346.93,231.53 L348.65,231.66 L350.38,231.79 L352.10,231.92 L353.82,232.04 L355.55,232.16 L357.27,232.28 L359.00,232.40 L360.72,232.51 L362.45,232.62 L364.18,232.73 L365.90,232.83 L367.62,232.93 L369.35,233.03 L371.07,233.12 L372.80,233.21 L374.52,233.30 L376.25,233.39 L377.98,233.47 L379.70,233.55 L381.43,233.63 L383.15,233.70 L384.88,233.76 L386.60,233.83 L388.32,233.88 L390.05,233.93 L391.78,233.98 L393.50,234.00" fill="none" stroke="#ff2000" stroke-width="1.8"/>
<path d="M41.50,12.50 H400.50 V234.30 H41.50 Z" fill="none" stroke="#8a8a8a" stroke-width="0.6"/>
<path d="M48.50,234.30 v-9.10 M48.50,12.50 v9.10 M57.12,234.30 v-4.40 M57.12,12.50 v4.40 M65.75,234.30 v-4.40 M65.75,12.50 v4.40 M74.38,234.30 v-4.40 M74.38,12.50 v4.40 M83.00,234.30 v-4.40 M83.00,12.50 v4.40 M91.63,234.30 v-9.10 M91.63,12.50 v9.10 M100.25,234.30 v-4.40 M100.25,12.50 v4.40 M108.88,234.30 v-4.40 M108.88,12.50 v4.40 M117.50,234.30 v-4.40 M117.50,12.50 v4.40 M126.12,234.30 v-4.40 M126.12,12.50 v4.40 M134.75,234.30 v-9.10 M134.75,12.50 v9.10 M143.38,234.30 v-4.40 M143.38,12.50 v4.40 M152.00,234.30 v-4.40 M152.00,12.50 v4.40 M160.62,234.30 v-4.40 M160.62,12.50 v4.40 M169.25,234.30 v-4.40 M169.25,12.50 v4.40 M177.88,234.30 v-9.10 M177.88,12.50 v9.10 M186.50,234.30 v-4.40 M186.50,12.50 v4.40 M195.12,234.30 v-4.40 M195.12,12.50 v4.40 M203.75,234.30 v-4.40 M203.75,12.50 v4.40 M212.38,234.30 v-4.40 M212.38,12.50 v4.40 M221.00,234.30 v-9.10 M221.00,12.50 v9.10 M229.62,234.30 v-4.40 M229.62,12.50 v4.40 M238.25,234.30 v-4.40 M238.25,12.50 v4.40 M246.88,234.30 v-4.40 M246.88,12.50 v4.40 M255.50,234.30 v-4.40 M255.50,12.50 v4.40 M264.12,234.30 v-9.10 M264.12,12.50 v9.10 M272.75,234.30 v-4.40 M272.75,12.50 v4.40 M281.38,234.30 v-4.40 M281.38,12.50 v4.40 M290.00,234.30 v-4.40 M290.00,12.50 v4.40 M298.62,234.30 v-4.40 M298.62,12.50 v4.40 M307.25,234.30 v-9.10 M307.25,12.50 v9.10 M315.88,234.30 v-4.40 M315.88,12.50 v4.40 M324.50,234.30 v-4.40 M324.50,12.50 v4.40 M333.13,234.30 v-4.40 M333.13,12.50 v4.40 M341.75,234.30 v-4.40 M341.75,12.50 v4.40 M350.38,234.30 v-9.10 M350.38,12.50 v9.10 M359.00,234.30 v-4.40 M359.00,12.50 v4.40 M367.62,234.30 v-4.40 M367.62,12.50 v4.40 M376.25,234.30 v-4.40 M376.25,12.50 v4.40 M384.88,234.30 v-4.40 M384.88,12.50 v4.40 M393.50,234.30 v-9.10 M393.50,12.50 v9.10 M41.50,234.30 h9.10 M400.50,234.30 h-9.10 M41.50,226.91 h4.40 M400.50,226.91 h-4.40 M41.50,219.51 h4.40 M400.50,219.51 h-4.40 M41.50,212.12 h4.40 M400.50,212.12 h-4.40 M41.50,204.73 h4.40 M400.50,204.73 h-4.40 M41.50,197.34 h9.10 M400.50,197.34 h-9.10 M41.50,189.94 h4.40 M400.50,189.94 h-4.40 M41.50,182.55 h4.40 M400.50,182.55 h-4.40 M41.50,175.16 h4.40 M400.50,175.16 h-4.40 M41.50,167.76 h4.40 M400.50,167.76 h-4.40 M41.50,160.37 h9.10 M400.50,160.37 h-9.10 M41.50,152.98 h4.40 M400.50,152.98 h-4.40 M41.50,145.58 h4.40 M400.50,145.58 h-4.40 M41.50,138.19 h4.40 M400.50,138.19 h-4.40 M41.50,130.80 h4.40 M400.50,130.80 h-4.40 M41.50,123.41 h9.10 M400.50,123.41 h-9.10 M41.50,116.01 h4.40 M400.50,116.01 h-4.40 M41.50,108.62 h4.40 M400.50,108.62 h-4.40 M41.50,101.23 h4.40 M400.50,101.23 h-4.40 M41.50,93.83 h4.40 M400.50,93.83 h-4.40 M41.50,86.44 h9.10 M400.50,86.44 h-9.10 M41.50,79.05 h4.40 M400.50,79.05 h-4.40 M41.50,71.65 h4.40 M400.50,71.65 h-4.40 M41.50,64.26 h4.40 M400.50,64.26 h-4.40 M41.50,56.87 h4.40 M400.50,56.87 h-4.40 M41.50,49.47 h9.10 M400.50,49.47 h-9.10 M41.50,42.08 h4.40 M400.50,42.08 h-4.40 M41.50,34.69 h4.40 M400.50,34.69 h-4.40 M41.50,27.30 h4.40 M400.50,27.30 h-4.40 M41.50,19.90 h4.40 M400.50,19.90 h-4.40 M41.50,12.51 h9.10 M400.50,12.51 h-9.10" fill="none" stroke="#484848" stroke-width="0.7"/>
<g font-family="Liberation Serif, serif" font-size="12.7" fill="#0a0a0a" stroke="#0a0a0a" stroke-width="0.22">
<text x="48.50" y="246.9" text-anchor="middle" textLength="16.5" lengthAdjust="spacingAndGlyphs">0.2</text>
<text x="91.63" y="246.9" text-anchor="middle" textLength="16.5" lengthAdjust="spacingAndGlyphs">0.3</text>
<text x="134.75" y="246.9" text-anchor="middle" textLength="16.5" lengthAdjust="spacingAndGlyphs">0.4</text>
<text x="177.88" y="246.9" text-anchor="middle" textLength="16.5" lengthAdjust="spacingAndGlyphs">0.5</text>
<text x="221.00" y="246.9" text-anchor="middle" textLength="16.5" lengthAdjust="spacingAndGlyphs">0.6</text>
<text x="264.12" y="246.9" text-anchor="middle" textLength="16.5" lengthAdjust="spacingAndGlyphs">0.7</text>
<text x="307.25" y="246.9" text-anchor="middle" textLength="16.5" lengthAdjust="spacingAndGlyphs">0.8</text>
<text x="350.38" y="246.9" text-anchor="middle" textLength="16.5" lengthAdjust="spacingAndGlyphs">0.9</text>
<text x="394.70" y="246.9" text-anchor="middle" textLength="9.9" lengthAdjust="spacingAndGlyphs">1.</text>
<text x="39.2" y="237.30" text-anchor="end" textLength="6.6" lengthAdjust="spacingAndGlyphs">0</text>
<text x="39.2" y="200.34" text-anchor="end" textLength="16.5" lengthAdjust="spacingAndGlyphs">0.5</text>
<text x="39.2" y="163.37" text-anchor="end" textLength="9.9" lengthAdjust="spacingAndGlyphs">1.</text>
<text x="39.2" y="126.41" text-anchor="end" textLength="16.5" lengthAdjust="spacingAndGlyphs">1.5</text>
<text x="39.2" y="89.44" text-anchor="end" textLength="9.9" lengthAdjust="spacingAndGlyphs">2.</text>
<text x="39.2" y="52.47" text-anchor="end" textLength="16.5" lengthAdjust="spacingAndGlyphs">2.5</text>
<text x="39.2" y="15.51" text-anchor="end" textLength="9.9" lengthAdjust="spacingAndGlyphs">3.</text>
</g>
<rect x="303.1" y="25.40" width="34.3" height="16.2" fill="#ff8000"/>
<path d="M303.1,33.50 H337.4" stroke="#ff2000" stroke-width="1.4"/>
<text x="339.9" y="38.40" font-family="Liberation Serif, serif" font-size="14.6" fill="#303030" textLength="39.6" lengthAdjust="spacingAndGlyphs">NNLL</text>
<rect x="303.1" y="47.45" width="34.3" height="16.2" fill="#80aaff"/>
<path d="M303.1,55.55 H337.4" stroke="#0000ff" stroke-width="1.4"/>
<text x="339.9" y="60.45" font-family="Liberation Serif, serif" font-size="14.6" fill="#303030" textLength="29.0" lengthAdjust="spacingAndGlyphs">NLL</text>
<rect x="303.1" y="69.50" width="34.3" height="16.2" fill="#00ff00"/>
<path d="M303.1,77.60 H337.4" stroke="#006400" stroke-width="1.4"/>
<text x="339.9" y="82.50" font-family="Liberation Serif, serif" font-size="14.6" fill="#303030" textLength="18.2" lengthAdjust="spacingAndGlyphs">LL</text>
<g font-family="Liberation Serif, serif" fill="#303030">
<text x="195.6" y="46.2" font-size="15.5" font-style="italic" textLength="7" lengthAdjust="spacingAndGlyphs">τ</text>
<text x="203.6" y="40.3" font-size="10.5" textLength="16.4" lengthAdjust="spacingAndGlyphs">cut</text>
<text x="225.3" y="47.6" font-size="14.8" textLength="11.2" lengthAdjust="spacingAndGlyphs">=</text>
<text x="240.2" y="46.2" font-size="14.8" textLength="19.2" lengthAdjust="spacingAndGlyphs">0.2</text>
<text x="200.5" y="252" font-size="16.5" font-style="italic" textLength="8.5" lengthAdjust="spacingAndGlyphs">z</text>
<g transform="translate(15.5,157) rotate(-90)" font-size="15.8" text-anchor="middle">
<text x="3.80" y="0" font-style="italic">z</text>
<text x="13.75" y="0">d</text>
<text x="22.95" y="0" font-style="italic">σ</text>
<path d="M28.6,3.9 L37.0,-14.2" stroke="#303030" stroke-width="0.95" fill="none"/>
<text x="40.60" y="0">d</text>
<text x="48.75" y="0" font-style="italic">z</text>
<text x="56.1" y="0" transform="translate(0,-4.6) scale(1,1.2) translate(0,3.6)">(</text>
<text x="63.90" y="0" font-style="italic">τ</text>
<text x="76" y="-7.4" font-size="10.5" textLength="15.6" lengthAdjust="spacingAndGlyphs">cut</text>
<text x="87.9" y="0" transform="translate(0,-4.6) scale(1,1.2) translate(0,3.6)">)</text>
<text x="98.2" y="0" transform="translate(0,-4.9) scale(1,1.22) translate(0,4.25)">[</text>
<text x="108.30" y="0">nb</text>
<text x="118.2" y="0" transform="translate(0,-4.9) scale(1,1.22) translate(0,4.25)">]</text>
</g>
</g>
</svg>
</body></html>
